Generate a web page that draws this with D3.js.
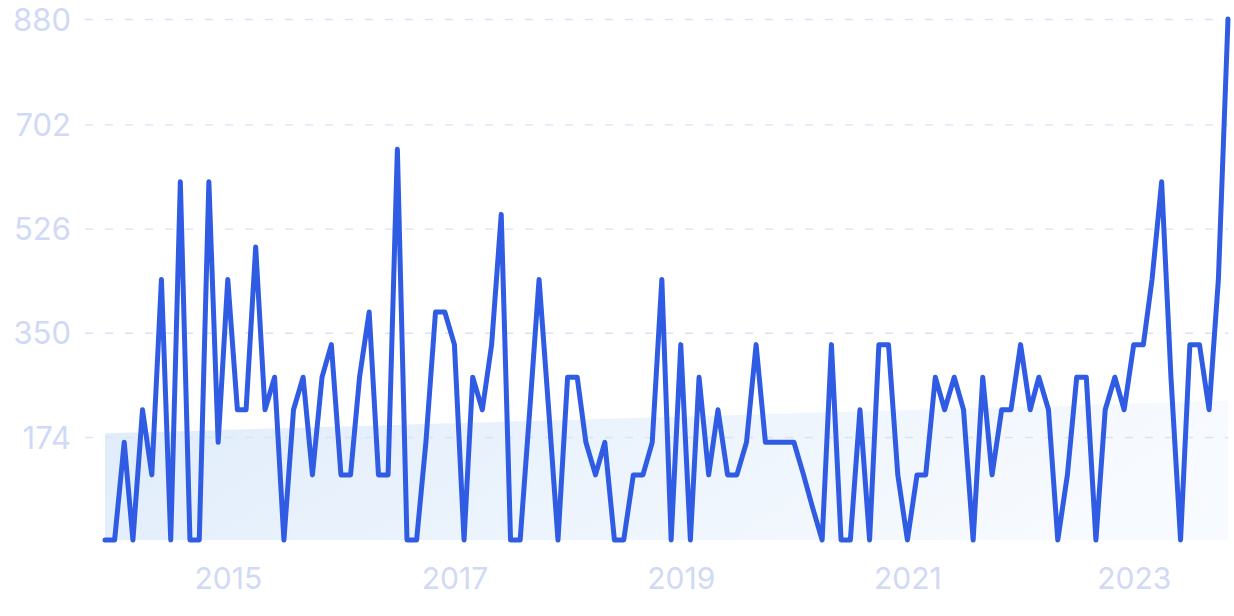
<!DOCTYPE html>
<html>
<head>
<meta charset="utf-8">
<script src="https://cdn.jsdelivr.net/npm/d3@7"></script>
<style>
  html, body { margin: 0; padding: 0; background: #ffffff; }
  svg { display: block; }
</style>
</head>
<body>
<svg id="chart" width="1234" height="616"></svg>
<script>
// ---- data ----
const startMonth = "2013-12-01";
const endMonth = "2023-11-01";
const values = [
  0, 0, 165, 0, 220, 110, 440, 0, 605, 0,
  0, 605, 165, 440, 220, 220, 495, 220, 275, 0,
  220, 275, 110, 275, 330, 110, 110, 275, 385, 110,
  110, 660, 0, 0, 165, 385, 385, 330, 0, 275,
  220, 330, 550, 0, 0, 220, 440, 220, 0, 275,
  275, 165, 110, 165, 0, 0, 110, 110, 165, 440,
  0, 330, 0, 275, 110, 220, 110, 110, 165, 330,
  165, 165, 165, 165, 110, 55, 0, 330, 0, 0,
  220, 0, 330, 330, 110, 0, 110, 110, 275, 220,
  275, 220, 0, 275, 110, 220, 220, 330, 220, 275,
  220, 0, 110, 275, 275, 0, 220, 275, 220, 330,
  330, 440, 605, 275, 0, 330, 330, 220, 440, 880
];
const yTicks = [174, 350, 526, 702, 880];
const xTickYears = [2015, 2017, 2019, 2021, 2023];

// ---- build ----
const months = d3.utcMonth.range(new Date(startMonth), d3.utcMonth.offset(new Date(endMonth), 1));
const data = months.map((d, i) => ({ date: d, value: values[i], i }));

const svg = d3.select("#chart");
const x = d3.scaleUtc().domain([months[0], months[months.length - 1]]).range([105, 1228]);
const y = d3.scaleLinear().domain([0, 880]).range([540, 19]);

// linear trend (least squares) for shaded band
const mi = d3.mean(data, d => d.i), mv = d3.mean(data, d => d.value);
const slope = d3.sum(data, d => (d.i - mi) * (d.value - mv)) / d3.sum(data, d => (d.i - mi) ** 2);
const icpt = mv - slope * mi;
const trend = data.map(d => ({ date: d.date, value: icpt + slope * d.i }));

const defs = svg.append("defs");
const grad = defs.append("linearGradient").attr("id", "bandGrad")
  .attr("x1", "0%").attr("y1", "0%").attr("x2", "100%").attr("y2", "20%");
grad.append("stop").attr("offset", "0%").attr("stop-color", "#3d8ae6").attr("stop-opacity", 0.16);
grad.append("stop").attr("offset", "100%").attr("stop-color", "#3d8ae6").attr("stop-opacity", 0.04);

// shaded band
svg.append("path")
  .datum(trend)
  .attr("fill", "url(#bandGrad)")
  .attr("d", d3.area().x(d => x(d.date)).y0(y(0)).y1(d => y(d.value)));

// gridlines
const yAxis = d3.axisLeft(y).tickValues(yTicks).tickSize(-(1228 - 85)).tickPadding(14);
const gy = svg.append("g").attr("transform", "translate(85,0)").call(yAxis);
gy.select(".domain").remove();
gy.selectAll(".tick line")
  .attr("stroke", "#d9e2f6")
  .attr("stroke-width", 1.4)
  .attr("stroke-dasharray", "8,12");
gy.selectAll(".tick text")
  .attr("x", -14)
  .attr("fill", "#d0d9f5")
  .style("font-family", "Inter, 'Noto Sans', sans-serif")
  .style("font-size", "31px")
  .attr("dy", "0.36em");

// x axis labels
const xAxis = d3.axisBottom(x)
  .tickValues(xTickYears.map(yr => new Date(Date.UTC(yr, 0, 1))))
  .tickFormat(d3.utcFormat("%Y"))
  .tickSize(0).tickPadding(0);
const gx = svg.append("g").attr("transform", "translate(0,578)").call(xAxis);
gx.select(".domain").remove();
gx.selectAll(".tick text")
  .attr("y", 0)
  .attr("dy", "0.36em")
  .attr("fill", "#d0d9f5")
  .style("font-family", "Inter, 'Noto Sans', sans-serif")
  .style("font-size", "30px");

// main line
svg.append("path")
  .datum(data)
  .attr("fill", "none")
  .attr("stroke", "#2f5ce3")
  .attr("stroke-width", 5)
  .attr("stroke-linejoin", "round")
  .attr("stroke-linecap", "round")
  .attr("d", d3.line().x(d => x(d.date)).y(d => y(d.value)));
</script>
</body>
</html>
